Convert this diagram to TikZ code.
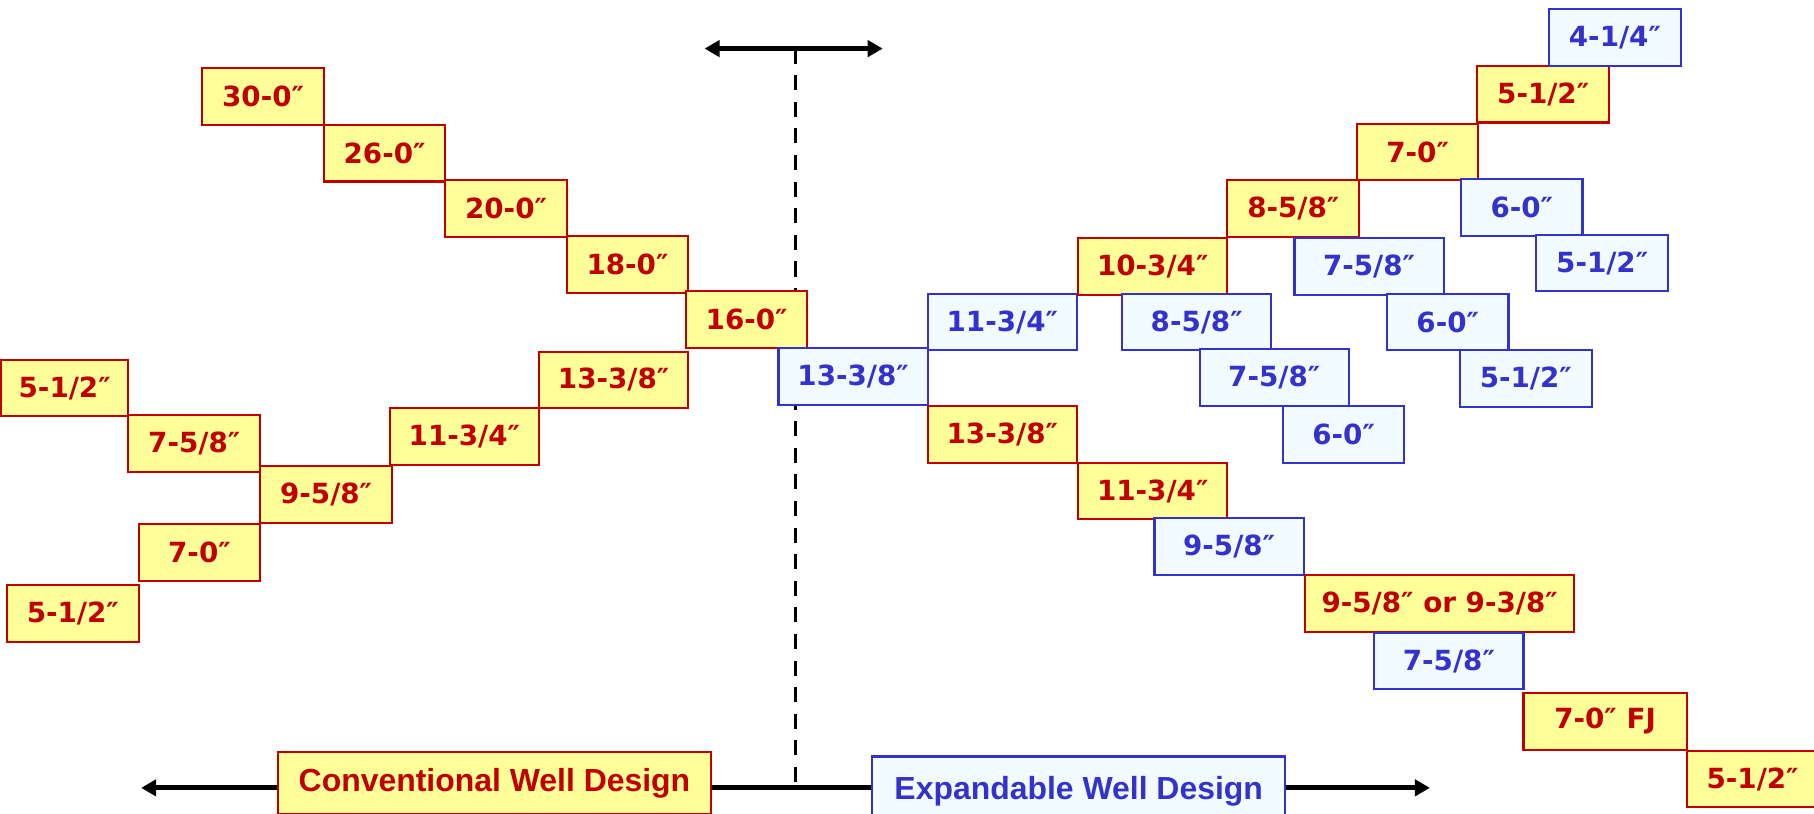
\documentclass[tikz,border=0pt]{standalone}
\usepackage{fontspec}
\setmainfont{DejaVu Sans}
\newfontfamily\bannerfont{Liberation Sans}
\usetikzlibrary{arrows.meta}
\definecolor{convred}{RGB}{192,0,0}
\definecolor{convfill}{RGB}{255,255,153}
\definecolor{expblue}{RGB}{51,51,204}
\definecolor{expfill}{RGB}{242,251,255}
\begin{document}
\begin{tikzpicture}[x=0.5pt, y=-0.5pt,
    >={Triangle[length=6.5pt,width=7pt]},
    casing/.style={anchor=north west, inner sep=0pt, minimum height=24.5pt,
      line width=0.9pt, font=\bfseries\fontsize{12}{14}\selectfont},
    conv/.style={casing, draw=convred, fill=convfill, text=convred},
    expd/.style={casing, draw=expblue, fill=expfill, text=expblue},
    narrow/.style={minimum width=52.5pt},
    mid/.style={minimum width=57pt},
    broad/.style={minimum width=64.5pt},
    guide/.style={line width=2.2pt},
    banner/.style={anchor=north west, inner sep=0pt, line width=0.9pt,
      font=\bannerfont\bfseries\fontsize{13.8}{15}\selectfont}]
  \useasboundingbox (0,0) rectangle (1568,703);
  % axes
  \coordinate (apex) at (688,42);
  \coordinate (base) at (688,681);
  \coordinate (topl) at (609,42);
  \coordinate (topr) at (763,42);
  \coordinate (axl) at (122,681);
  \coordinate (axr) at (1236,681);
  \draw[line width=1.3pt, dash pattern=on 6.5pt off 5pt] (apex) -- (base);
  \draw[guide, <->] (topl) -- (topr);
  \draw[guide, <->] (axl) -- (axr);
  % conventional string
  \node[conv, narrow] (c30) at (174,58) {30-0″};
  \node[conv, narrow] (c26) at (279,107) {26-0″};
  \node[conv, narrow] (c20) at (384,155) {20-0″};
  \node[conv, narrow] (c18) at (489,203) {18-0″};
  \node[conv, narrow] (c16) at (592,251) {16-0″};
  \node[conv, broad] (c13) at (465,303) {13-3/8″};
  \node[conv, broad] (c11) at (336,352) {11-3/4″};
  \node[conv, mid, minimum width=55pt] (c5a) at (0,310) {5-1/2″};
  \node[conv, mid] (c7a) at (110,358) {7-5/8″};
  \node[conv, mid] (c9) at (224,402) {9-5/8″};
  \node[conv, narrow] (c7b) at (119,452) {7-0″};
  \node[conv, mid] (c5b) at (5,505) {5-1/2″};
  % expandable string
  \node[expd, broad] (e13) at (672,300) {13-3/8″};
  \node[expd, broad] (e11) at (801,253) {11-3/4″};
  \node[conv, broad] (r10) at (931,205) {10-3/4″};
  \node[conv, mid] (r8) at (1060,155) {8-5/8″};
  \node[conv, narrow] (r7) at (1172,106) {7-0″};
  \node[conv, mid] (r5) at (1276,56) {5-1/2″};
  \node[expd, mid] (e4) at (1338,7) {4-1/4″};
  \node[expd, narrow] (e6a) at (1262,154) {6-0″};
  \node[expd, mid] (e5a) at (1327,202) {5-1/2″};
  \node[expd, broad] (e7a) at (1118,205) {7-5/8″};
  \node[expd, broad] (e8) at (969,253) {8-5/8″};
  \node[expd, narrow] (e6b) at (1198,253) {6-0″};
  \node[expd, mid] (e5b) at (1261,302) {5-1/2″};
  \node[expd, broad] (e7b) at (1036,301) {7-5/8″};
  \node[expd, narrow] (e6c) at (1108,350) {6-0″};
  \node[conv, broad] (r13) at (801,350) {13-3/8″};
  \node[conv, broad] (r11) at (931,399) {11-3/4″};
  \node[expd, broad] (e9) at (997,447) {9-5/8″};
  \node[conv, minimum width=116.5pt] (r9) at (1127,496) {9-5/8″ or 9-3/8″};
  \node[expd, broad] (e7c) at (1187,546) {7-5/8″};
  \node[conv, minimum width=70.5pt] (rfj) at (1316,598) {7-0″ FJ};
  \node[conv, mid] (r5b) at (1457,648) {5-1/2″};
  % labels on the axis
  \node[banner, draw=convred, fill=convfill, text=convred,
    minimum width=187.5pt, minimum height=27pt] (convlabel) at (239,649)
    {Conventional Well Design};
  \node[banner, draw=expblue, fill=expfill, text=expblue,
    minimum width=178.5pt, minimum height=30pt] (explabel) at (753,653)
    {Expandable Well Design};
\end{tikzpicture}
\end{document}
